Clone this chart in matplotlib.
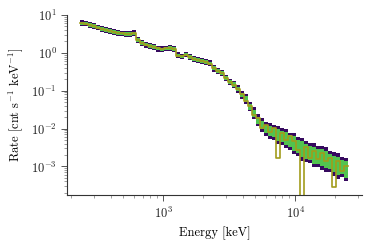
import numpy as np
import matplotlib
matplotlib.use("Agg")
import matplotlib.pyplot as plt

# energy grid (bin edges, keV) - 67 log bins
edges = np.geomspace(235, 25200, 68)

# model rate per bin (cnt/s/keV)
model = [6.06, 5.88, 5.53, 5.11, 4.60, 4.33, 4.03, 3.79, 3.56, 3.33,
         3.23, 3.15, 3.13, 3.29, 2.15, 1.81, 1.63, 1.53, 1.44, 1.30,
         1.25, 1.32, 1.33, 1.28, 0.86, 0.80, 0.91, 0.78, 0.69, 0.65,
         0.61, 0.58, 0.53, 0.39, 0.33, 0.29, 0.217, 0.170, 0.146, 0.111,
         0.0769, 0.0602, 0.0377, 0.0256, 0.0167, 0.0123, 0.0099, 0.0085, 0.0078, 0.0067,
         0.0061, 0.0056, 0.0046, 0.0040, 0.0034, 0.00284, 0.00244, 0.00222, 0.00197, 0.00185,
         0.00169, 0.00154, 0.00136, 0.00117, 0.00104, 0.00095, 0.00084]

# outer (purple) and inner (green) band half widths, in dex
wide = [0.075, 0.072, 0.078, 0.075, 0.071, 0.078, 0.075, 0.072, 0.078, 0.075,
        0.072, 0.075, 0.079, 0.075, 0.079, 0.073, 0.072, 0.078, 0.075, 0.079,
        0.074, 0.071, 0.078, 0.075, 0.080, 0.076, 0.073, 0.078, 0.077, 0.081,
        0.076, 0.082, 0.079, 0.084, 0.080, 0.086, 0.083, 0.090, 0.088, 0.097,
        0.10, 0.13, 0.12, 0.16, 0.15, 0.19, 0.18, 0.21, 0.19, 0.23,
        0.22, 0.25, 0.23, 0.28, 0.25, 0.30, 0.28, 0.26, 0.32, 0.28,
        0.31, 0.33, 0.27, 0.31, 0.34, 0.27, 0.31]
narrow = [0.045, 0.043, 0.047, 0.045, 0.043, 0.046, 0.046, 0.043, 0.046, 0.046,
          0.044, 0.044, 0.046, 0.046, 0.048, 0.044, 0.044, 0.046, 0.046, 0.047,
          0.044, 0.043, 0.047, 0.045, 0.048, 0.046, 0.044, 0.047, 0.046, 0.048,
          0.046, 0.049, 0.047, 0.050, 0.049, 0.052, 0.051, 0.055, 0.055, 0.060,
          0.062, 0.075, 0.074, 0.092, 0.090, 0.11, 0.10, 0.13, 0.12, 0.15,
          0.14, 0.17, 0.16, 0.19, 0.17, 0.21, 0.20, 0.18, 0.23, 0.20,
          0.22, 0.23, 0.19, 0.22, 0.24, 0.19, 0.22]

# observed rate per bin
observed = [6.00, 5.90, 5.50, 5.10, 4.62, 4.30, 4.05, 3.77, 3.58, 3.31,
            3.25, 3.14, 3.12, 3.31, 2.13, 1.83, 1.62, 1.54, 1.43, 1.31,
            1.24, 1.33, 1.32, 1.29, 0.85, 0.81, 0.90, 0.79, 0.68, 0.66,
            0.60, 0.585, 0.52, 0.395, 0.325, 0.292, 0.214, 0.172, 0.144, 0.113,
            0.081, 0.055, 0.040, 0.0228, 0.0192, 0.0102, 0.0125, 0.0079, 0.0103, 0.0017,
            0.0077, 0.0049, 0.0062, 0.0048, 0.0027, 1e-5, 0.0032, 0.00168, 0.0025, 0.00154,
            0.00228, 0.00137, 0.00167, 0.00028, 0.00137, 0.00075, 0.0010]

PURPLE = '#36095f'
GREEN = '#52c34f'
OLIVE = '#a29c1b'

plt.rcParams['font.family'] = 'serif'
plt.rcParams['font.serif'] = ['cmr10']
plt.rcParams['mathtext.fontset'] = 'cm'
plt.rcParams['axes.formatter.use_mathtext'] = True


def stepped(vals):
    vals = np.asarray(vals, dtype=float)
    return np.append(vals, vals[-1])


def main():
    fig = plt.figure(figsize=(3.73, 2.46), dpi=100)
    ax = fig.add_axes([0.18, 0.207, 0.79, 0.732])

    m = stepped(model)
    w = stepped(wide)
    n = stepped(narrow)

    ax.fill_between(edges, m / 10**w, m * 10**w, step='post', color=PURPLE, lw=0)
    ax.fill_between(edges, m / 10**n, m * 10**n, step='post', color=GREEN, lw=0)
    ax.step(edges, stepped(observed), where='post', color=OLIVE, lw=1.2)

    ax.set_xscale('log')
    ax.set_yscale('log')
    ax.set_xlim(187, 32000)
    ax.set_ylim(1.75e-4, 10)

    ax.set_xlabel("Energy [keV]", fontsize=9)
    ax.set_ylabel(r"Rate [cnt s$^{-1}$ keV$^{-1}$]", fontsize=9)

    for side in ['top', 'right']:
        ax.spines[side].set_visible(False)
    for side in ['left', 'bottom']:
        ax.spines[side].set_linewidth(0.8)
        ax.spines[side].set_color('#333333')
    ax.tick_params(which='major', direction='out', length=4, width=0.7,
                   color='#555555', labelsize=9, labelcolor='#222222')
    ax.tick_params(which='minor', direction='out', length=2, width=0.5, color='#777777')

    fig.savefig('out.png', dpi=100)


if __name__ == "__main__":
    main()
